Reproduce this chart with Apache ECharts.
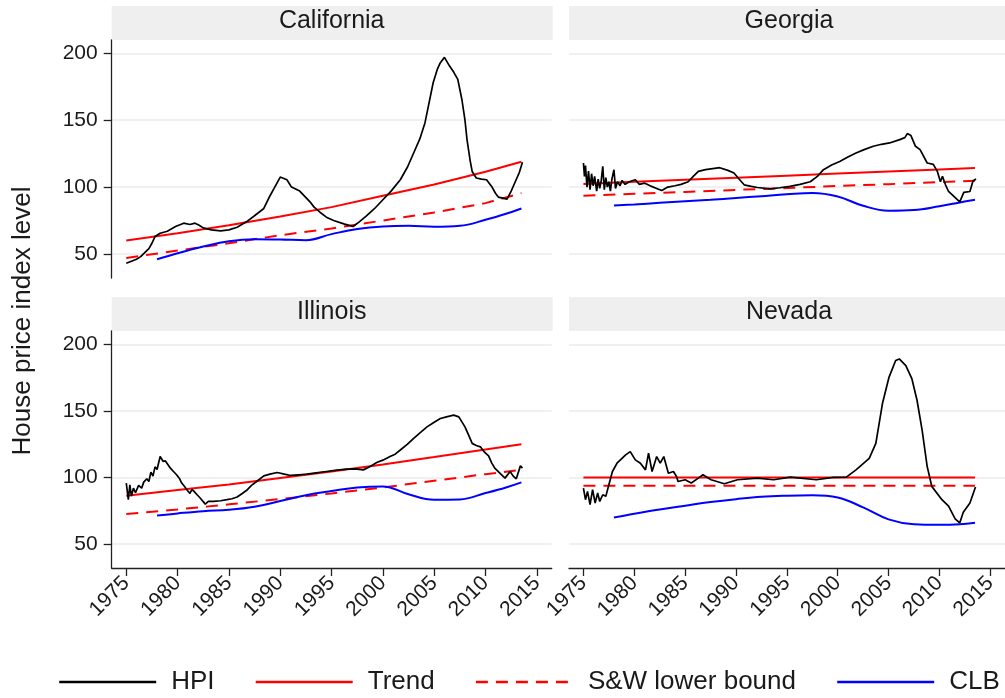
<!DOCTYPE html>
<html>
<head>
<meta charset="utf-8">
<script src="https://cdn.jsdelivr.net/npm/echarts@6/dist/echarts.min.js"></script>
<style>
html, body { margin: 0; padding: 0; background: #fff; }
#chart { width: 1005px; height: 698px; }
</style>
</head>
<body>
<div id="chart"></div>
<script>
// tick labels
const xTicks = [1975, 1980, 1985, 1990, 1995, 2000, 2005, 2010, 2015];
const yTicks = [50, 100, 150, 200];
const seriesNames = ['HPI', 'Trend', 'S&W lower bound', 'CLB'];

// years where the trend / lower bound / CLB lines were read
const trendYears = [1975, 1980, 1985, 1990, 1995, 2000, 2005, 2010, 2013.5];
const clbYears = [1978, 1980, 1982.5, 1985, 1987.5, 1990, 1992.5, 1995, 1997.5, 2000, 2002.5, 2005, 2007.5, 2010, 2012, 2013.5];

// California
const caHPI = [[1975,43],[1975.5,44.5],[1976,46],[1976.4,48],[1976.8,51],[1977.2,54],[1977.5,58],[1977.8,63],[1978.3,65.5],[1979,67],[1979.8,70.5],[1980.6,73],[1981.2,72],[1981.7,73],[1982.1,71.5],[1982.5,69.5],[1983.3,68],[1984.2,67.3],[1985,68],[1985.8,70],[1986.7,74],[1987.4,78],[1988.4,84],[1988.9,92],[1989.4,99],[1990,107.5],[1990.65,105.5],[1991.1,100],[1991.9,97],[1992.9,89],[1993.3,85],[1993.9,81],[1994.5,77.5],[1995.2,75],[1996.2,72.5],[1997.1,70.5],[1997.7,74],[1998.4,78.5],[1999.2,84],[2000,90.5],[2000.8,97],[2001.7,105.5],[2002.4,115],[2003,125.5],[2003.6,136],[2004.1,148],[2004.5,163],[2004.9,178],[2005.3,188],[2005.6,193],[2006,197],[2006.5,190.5],[2006.9,186],[2007.3,180.5],[2007.7,165.5],[2008,150],[2008.2,135.5],[2008.5,120],[2008.7,111.7],[2009.1,106.8],[2009.6,106],[2010.1,105.5],[2010.6,100.5],[2011,95],[2011.25,92.5],[2012.1,91],[2012.5,97],[2012.9,104],[2013.3,111],[2013.6,118.5]];
const caTrend = [60, 65.5, 71.5, 78, 85, 93.5, 102, 111.5, 119];
const caSW = [47, 52.5, 58, 64, 69, 75, 81, 88, 95.5];
const caCLB = [46, 50.5, 55.5, 59.5, 61, 60.8, 60.3, 64.8, 68.7, 70.6, 71, 70.3, 71, 75.5, 80, 84];

// Georgia
const gaHPI = [[1975,118],[1975.1,108],[1975.2,116],[1975.35,100],[1975.5,112],[1975.65,98],[1975.8,110],[1975.95,101],[1976.1,108],[1976.3,97],[1976.45,106],[1976.6,99],[1976.75,105],[1976.9,115.5],[1977.05,98],[1977.2,107],[1977.35,100],[1977.5,104],[1977.65,97],[1977.8,106],[1978,113],[1978.15,99],[1978.35,104],[1978.6,101],[1978.8,105],[1979.1,102],[1979.5,104],[1980.1,105.5],[1980.5,102],[1981,103],[1981.7,100.5],[1982.2,99],[1982.7,97.5],[1983.3,100],[1984,101],[1984.6,102],[1985.3,104],[1985.8,108],[1986.3,111.7],[1987,113],[1987.9,114],[1988.4,114.5],[1989.2,112.5],[1989.8,110.5],[1990.3,106],[1990.8,101.7],[1991.5,100.5],[1992.1,99.7],[1993.4,98.7],[1994.3,99.5],[1995.3,100.5],[1996.3,102],[1997.3,104],[1998,108],[1998.6,113],[1999.4,116.5],[2000.2,119.2],[2001,122.5],[2001.8,125.5],[2002.6,128],[2003.5,130.5],[2004.3,132],[2005.1,133],[2006.1,135.5],[2006.6,137],[2006.85,140],[2007.2,138.5],[2007.65,130.5],[2008.1,128],[2008.8,118],[2009.4,117],[2009.8,111.7],[2010.1,104],[2010.3,108],[2010.6,101.7],[2010.9,96.7],[2011.5,92.5],[2012,89],[2012.4,96],[2013,96.7],[2013.3,104.5],[2013.6,106]];
const gaTrend = [102.3, 103.9, 105.4, 107, 108.5, 110.1, 111.6, 113.2, 114.3];
const gaSW = [93.5, 95, 96.4, 97.9, 99.3, 100.8, 102.2, 103.7, 104.7];
const gaCLB = [86.2, 87, 88.2, 89.4, 90.5, 91.8, 93.2, 94.6, 95.6, 93, 86, 82.3, 82.8, 85.7, 88.5, 90.5];

// Illinois
const ilHPI = [[1975,95.8],[1975.2,83.3],[1975.35,94.5],[1975.5,86],[1975.7,92],[1975.9,88.5],[1976.2,94],[1976.5,92],[1976.7,96.5],[1977,99],[1977.2,97],[1977.4,104],[1977.6,101],[1977.8,108],[1978,106],[1978.3,115.7],[1978.6,112],[1978.8,112.5],[1979.3,107],[1979.6,104.5],[1979.9,102],[1980.2,99],[1980.4,95.8],[1980.7,93],[1980.9,90.8],[1981.2,88],[1981.4,91],[1981.6,89.5],[1981.9,87],[1982.2,84.6],[1982.7,80],[1983,82],[1983.5,82],[1984.2,82.5],[1984.8,83.3],[1985.3,84],[1985.8,85.3],[1986.3,88],[1986.8,90.8],[1987.2,94],[1987.7,97],[1988.4,101.2],[1989,102.5],[1989.7,103.7],[1990.4,102.5],[1991,101.5],[1991.8,102],[1992.6,102.5],[1993.5,103.5],[1994.5,104.5],[1995.5,105.5],[1996.5,106.2],[1997.3,106.5],[1998.1,105.7],[1998.8,108.5],[1999.4,111.2],[2000,113],[2000.7,115.7],[2001.2,117.5],[2001.7,120.6],[2002.4,125],[2003,129.4],[2003.7,134],[2004.3,138],[2005,141.5],[2005.6,144.3],[2006.2,145.5],[2006.9,146.8],[2007.4,145.5],[2008,138],[2008.4,131],[2008.7,125.6],[2009.1,124],[2009.5,123],[2009.9,119],[2010.3,116.2],[2010.6,111],[2010.9,107],[2011.4,103.2],[2011.9,99.5],[2012.4,104.5],[2012.7,101],[2013,99],[2013.4,108.7],[2013.6,107]];
const ilTrend = [86.3, 90.5, 94.8, 99.6, 104.5, 109.8, 115.3, 121, 125];
const ilSW = [72.6, 76, 79.8, 83.8, 88, 92.5, 97.5, 102.5, 105.7];
const ilCLB = [71.4, 73, 74.7, 75.7, 78, 82.3, 86.7, 89.8, 92.5, 93.3, 87.4, 83.3, 83.5, 88.3, 92.5, 96.3];

// Nevada
const nvHPI = [[1975,92],[1975.2,83.3],[1975.4,89.5],[1975.65,79.6],[1975.9,90.8],[1976.15,80.8],[1976.4,88.3],[1976.6,82],[1976.9,87],[1977.2,85.8],[1977.5,94.5],[1977.85,104.5],[1978.3,110.7],[1979.15,117],[1979.6,119.4],[1980.1,113.2],[1980.6,110.7],[1981.1,105.7],[1981.4,118.2],[1981.75,104.5],[1982.2,115.7],[1982.55,110.7],[1982.9,115.7],[1983.35,103.2],[1983.85,104.5],[1984.15,100.7],[1984.3,97],[1985,98.3],[1985.6,95.8],[1986.3,99.5],[1986.75,102],[1987.55,98.3],[1988.85,95.3],[1990.15,98.3],[1992.1,99.5],[1993.7,98.3],[1995.35,100.2],[1997.9,98.3],[1999.55,100],[2000.85,100.2],[2001.8,105.7],[2003.1,114.4],[2003.75,125.6],[2004.4,155.5],[2005.05,175.4],[2005.7,187.8],[2006.05,189],[2006.7,184],[2007.3,174],[2007.8,158],[2008.3,135.6],[2008.8,108.2],[2009.25,93.3],[2010.25,83.3],[2010.9,78.4],[2011.55,68.9],[2012,65.9],[2012.35,73.9],[2013,80.8],[2013.55,92.8]];
const nvTrend = [100, 100, 100, 100, 100, 100, 100, 100, 100];
const nvSW = [93.8, 93.8, 93.8, 93.8, 93.8, 93.8, 93.8, 93.8, 93.8];
const nvCLB = [70, 72.8, 76, 78.8, 81.5, 83.7, 85.5, 86.3, 86.6, 85, 77.5, 68.5, 64.8, 64.4, 64.8, 65.9];

const FONT = '"Liberation Sans", Arial, sans-serif';
const panels = [
  { name: 'California', left: 111.7, top: 40, height: 238, hpi: caHPI, trend: caTrend, sw: caSW, clb: caCLB, yShow: true, xShow: false },
  { name: 'Georgia', left: 569, top: 40, height: 238, hpi: gaHPI, trend: gaTrend, sw: gaSW, clb: gaCLB, yShow: false, xShow: false },
  { name: 'Illinois', left: 111.7, top: 331, height: 237, hpi: ilHPI, trend: ilTrend, sw: ilSW, clb: ilCLB, yShow: true, xShow: true },
  { name: 'Nevada', left: 569, top: 331, height: 237, hpi: nvHPI, trend: nvTrend, sw: nvSW, clb: nvCLB, yShow: false, xShow: true }
];
const panelWidth = 440;

let myChart = echarts.init(document.getElementById('chart'));

let grids = [], xAxes = [], yAxes = [], titles = [], series = [], strips = [];
panels.forEach(function (p, i) {
  grids.push({ left: p.left, top: p.top, width: panelWidth, height: p.height, containLabel: false });
  strips.push({
    type: 'rect', z: -1,
    shape: { x: p.left, y: p.top - 34, width: panelWidth + 1, height: 34 },
    style: { fill: '#efefef' }
  });
  titles.push({
    text: p.name, left: p.left + panelWidth / 2, top: p.top - 31, textAlign: 'center', padding: 0,
    textStyle: { fontFamily: FONT, fontSize: 25, fontWeight: 'normal', color: '#1a1a1a' }
  });
  xAxes.push({
    type: 'value', gridIndex: i, min: 1973.58, max: 2016.45,
    axisLine: { show: p.xShow, onZero: false, lineStyle: { color: '#222', width: 1.3 } },
    axisTick: { show: p.xShow, length: 8, customValues: xTicks, lineStyle: { color: '#222', width: 1.3 } },
    axisLabel: {
      show: p.xShow, customValues: xTicks, rotate: 45, margin: 12, fontSize: 21, fontFamily: FONT, color: '#1a1a1a',
      formatter: function (v) { return String(v); }
    },
    splitLine: { show: false }
  });
  yAxes.push({
    type: 'value', gridIndex: i, min: 32, max: 210,
    axisLine: { show: p.yShow, lineStyle: { color: '#222', width: 1.3 } },
    axisTick: { show: p.yShow, length: 8, customValues: yTicks, lineStyle: { color: '#222', width: 1.3 } },
    axisLabel: { show: p.yShow, customValues: yTicks, margin: 14, fontSize: 21, fontFamily: FONT, color: '#1a1a1a' },
    splitLine: { show: true, lineStyle: { color: '#ebebeb', width: 1.5 } }
  });
  const base = { type: 'line', xAxisIndex: i, yAxisIndex: i, symbol: 'none', animation: false, silent: true };
  series.push(Object.assign({}, base, {
    name: 'Trend', data: trendYears.map(function (y, k) { return [y, p.trend[k]]; }),
    lineStyle: { color: '#ff0000', width: 2 }, itemStyle: { color: '#ff0000' }
  }));
  series.push(Object.assign({}, base, {
    name: 'S&W lower bound', data: trendYears.map(function (y, k) { return [y, p.sw[k]]; }),
    lineStyle: { color: '#ff0000', width: 2, type: [12, 8] }, itemStyle: { color: '#ff0000' }
  }));
  series.push(Object.assign({}, base, {
    name: 'CLB', smooth: 0.4, data: clbYears.map(function (y, k) { return [y, p.clb[k]]; }),
    lineStyle: { color: '#0000ff', width: 2 }, itemStyle: { color: '#0000ff' }
  }));
  series.push(Object.assign({}, base, {
    name: 'HPI', data: p.hpi, z: 3,
    lineStyle: { color: '#000000', width: 1.7 }, itemStyle: { color: '#000000' }
  }));
});

myChart.setOption({
  animation: false,
  title: titles,
  grid: grids,
  xAxis: xAxes,
  yAxis: yAxes,
  legend: {
    data: seriesNames, left: 58, top: 667, padding: 0, itemWidth: 97, itemHeight: 14, itemGap: 40,
    selectedMode: false,
    lineStyle: { width: 2.4 },
    itemStyle: { opacity: 0 },
    textStyle: { fontFamily: FONT, fontSize: 26, color: '#1a1a1a', padding: [0, 0, 0, 10], lineHeight: 30 }
  },
  graphic: strips.concat([{
    type: 'text', x: 23, y: 321, rotation: Math.PI / 2,
    style: { text: 'House price index level', fontFamily: FONT, fontSize: 26, fill: '#1a1a1a', align: 'center', verticalAlign: 'middle' }
  }]),
  series: series
});
</script>
</body>
</html>
